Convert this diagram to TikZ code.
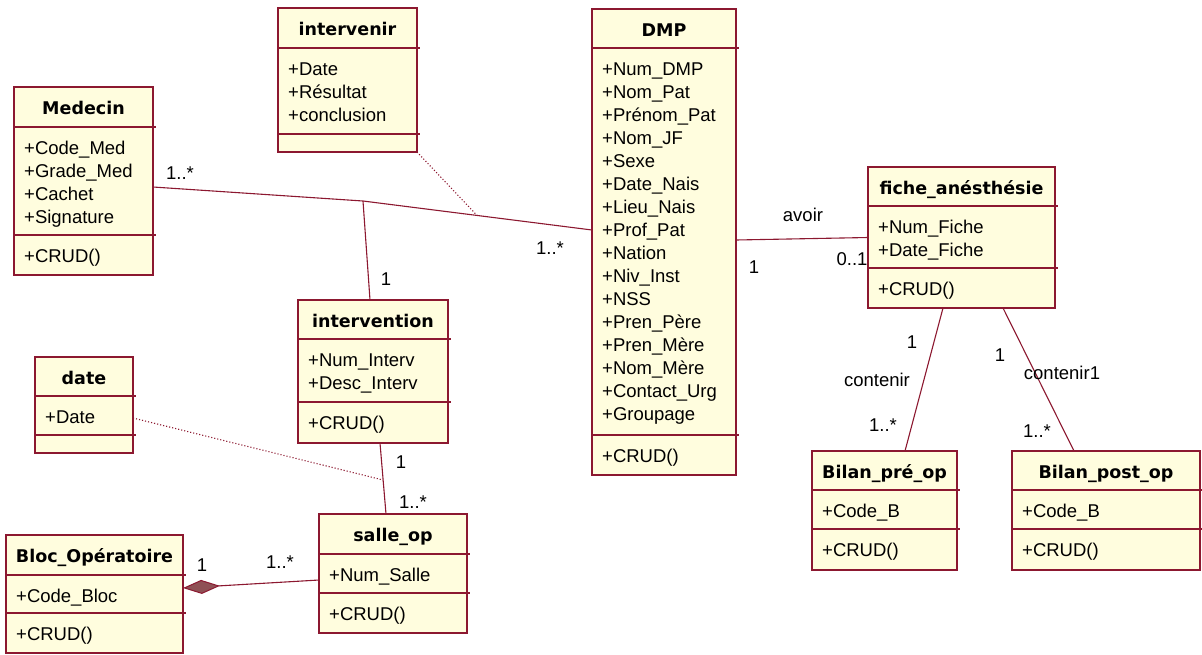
\documentclass[tikz,border=0pt]{standalone}
\usepackage{fontspec}
\setmainfont{Liberation Sans}
\newfontfamily\titlefont{DejaVu Sans}
\usetikzlibrary{arrows.meta,calc}
\definecolor{umlred}{RGB}{140,24,48}
\definecolor{umlfill}{RGB}{255,253,222}
\definecolor{diamcol}{RGB}{143,80,85}
\tikzset{
  clsbox/.style={draw=umlred, fill=umlfill, line width=1.3pt, inner sep=0pt, outer sep=0pt},
  sepline/.style={draw=umlred, line width=1.3pt},
  attr/.style={anchor=base west, inner sep=0pt, font=\fontsize{18.5}{23}\selectfont},
  ttl/.style={anchor=base, inner sep=0pt, font=\titlefont\bfseries\fontsize{17.5}{20}\selectfont},
  lbl/.style={inner sep=0pt, font=\fontsize{18.5}{22}\selectfont},
  assoc/.style={draw=umlred, line width=1.1pt},
  dotline/.style={draw=umlred, dotted, line width=1.1pt},
}
\newcommand\umlclass[8]{%
  \node[clsbox, minimum width={(#4-#2)*1pt}, minimum height={(#7-#3)*1pt}] (#1) at ({(#2+#4)/2},{(#3+#7)/2}) {};
  \draw[sepline] (#2,#5) -- (#4+3,#5) (#2,#6) -- (#4+3,#6);
  \node[ttl] (#1-title) at ({(#2+#4)/2},#3+27) {#8};
}
\newcommand\umlattrs[4]{%
  \foreach \attrtxt [count=\i] in {#4}
    \node[attr] (#1-a\i) at (#2+10,{#3+27+23*(\i-1)}) {\attrtxt};
}
\newcommand\umlmeth[3]{%
  \node[attr] (#1-m) at (#2+10,#3+27) {+CRUD()};
}
\begin{document}
\begin{tikzpicture}[x=1pt,y=-1pt]
\useasboundingbox (0,0) rectangle (1202,654);

% Medecin
\umlclass{medecin}{14}{87}{153}{127}{235}{275}{Medecin}
\umlattrs{medecin}{14}{127}{+Code\_Med,+Grade\_Med,+Cachet,+Signature}
\umlmeth{medecin}{14}{235}

% intervenir
\umlclass{intervenir}{278}{8}{417}{48}{134}{152}{intervenir}
\umlattrs{intervenir}{278}{48}{+Date,+Résultat,+conclusion}

% DMP
\umlclass{dmp}{592}{9}{736}{48}{435}{475}{DMP}
\umlattrs{dmp}{592}{48}{+Num\_DMP,+Nom\_Pat,+Prénom\_Pat,+Nom\_JF,+Sexe,+Date\_Nais,+Lieu\_Nais,+Prof\_Pat,+Nation,+Niv\_Inst,+NSS,+Pren\_Père,+Pren\_Mère,+Nom\_Mère,+Contact\_Urg,+Groupage}
\umlmeth{dmp}{592}{435}

% fiche_anesthesie
\umlclass{fiche}{868}{167}{1055}{206}{268}{308}{fiche\_anésthésie}
\umlattrs{fiche}{868}{206}{+Num\_Fiche,+Date\_Fiche}
\umlmeth{fiche}{868}{268}

% intervention
\umlclass{intervention}{298}{300}{448}{339}{402}{443}{intervention}
\umlattrs{intervention}{298}{339}{+Num\_Interv,+Desc\_Interv}
\umlmeth{intervention}{298}{402}

% date
\umlclass{date}{35}{357}{133}{396}{435}{453}{date}
\umlattrs{date}{35}{396}{+Date}

% salle_op
\umlclass{salle}{319}{514}{467}{554}{593}{633}{salle\_op}
\umlattrs{salle}{319}{554}{+Num\_Salle}
\umlmeth{salle}{319}{593}

% Bloc_Operatoire
\umlclass{bloc}{6}{535}{183}{575}{613}{653}{Bloc\_Opératoire}
\umlattrs{bloc}{6}{575}{+Code\_Bloc}
\umlmeth{bloc}{6}{613}

% Bilan_pre_op
\umlclass{bpre}{812}{451}{957}{490}{529}{570}{Bilan\_pré\_op}
\umlattrs{bpre}{812}{490}{+Code\_B}
\umlmeth{bpre}{812}{529}

% Bilan_post_op
\umlclass{bpost}{1012}{451}{1200}{490}{529}{570}{Bilan\_post\_op}
\umlattrs{bpost}{1012}{490}{+Code\_B}
\umlmeth{bpost}{1012}{529}

% connectors
\coordinate (jA) at (363,201);
\coordinate (jB) at (477,215.4);
\coordinate (jC) at (383,480);
\draw[assoc] ([yshift=-6pt]medecin.east) -- (jA) -- ([yshift=12pt]dmp.west);
\draw[assoc] ([xshift=-3pt]intervention.north) -- (jA);
\draw[dotline] (intervenir.south east) -- (jB);
\draw[assoc] ([yshift=2pt]dmp.east) -- (fiche.west);
\draw[assoc] ([xshift=-18.5pt]fiche.south) -- ([xshift=20.5pt]bpre.north);
\draw[assoc] ([xshift=41.5pt]fiche.south) -- ([xshift=-32pt]bpost.north);
\draw[assoc] ([xshift=7pt]intervention.south) -- ([xshift=-7pt]salle.north);
\draw[dotline] ([yshift=-13pt]date.east) -- (jC);
\draw[assoc, -{Diamond[length=37pt,width=14pt,fill=diamcol,line width=1pt]}] ([yshift=-6.5pt]salle.west) -- ([yshift=6pt]bloc.east);

% labels
\node[lbl] (l1) at (180,173) {1..*};
\node[lbl] (l2) at (550,248) {1..*};
\node[lbl] (l3) at (386,279) {1};
\node[lbl] (l4) at (803,215) {avoir};
\node[lbl] (l5) at (754,267) {1};
\node[lbl] (l6) at (852,259) {0..1};
\node[lbl] (l7) at (912,342) {1};
\node[lbl] (l8) at (877,380) {contenir};
\node[lbl] (l9) at (883,425) {1..*};
\node[lbl] (l10) at (1000,355) {1};
\node[lbl] (l11) at (1062,373) {contenir1};
\node[lbl] (l12) at (1037,431) {1..*};
\node[lbl] (l13) at (401,462) {1};
\node[lbl] (l14) at (413,502) {1..*};
\node[lbl] (l15) at (202,565) {1};
\node[lbl] (l16) at (280,562) {1..*};
\end{tikzpicture}
\end{document}
